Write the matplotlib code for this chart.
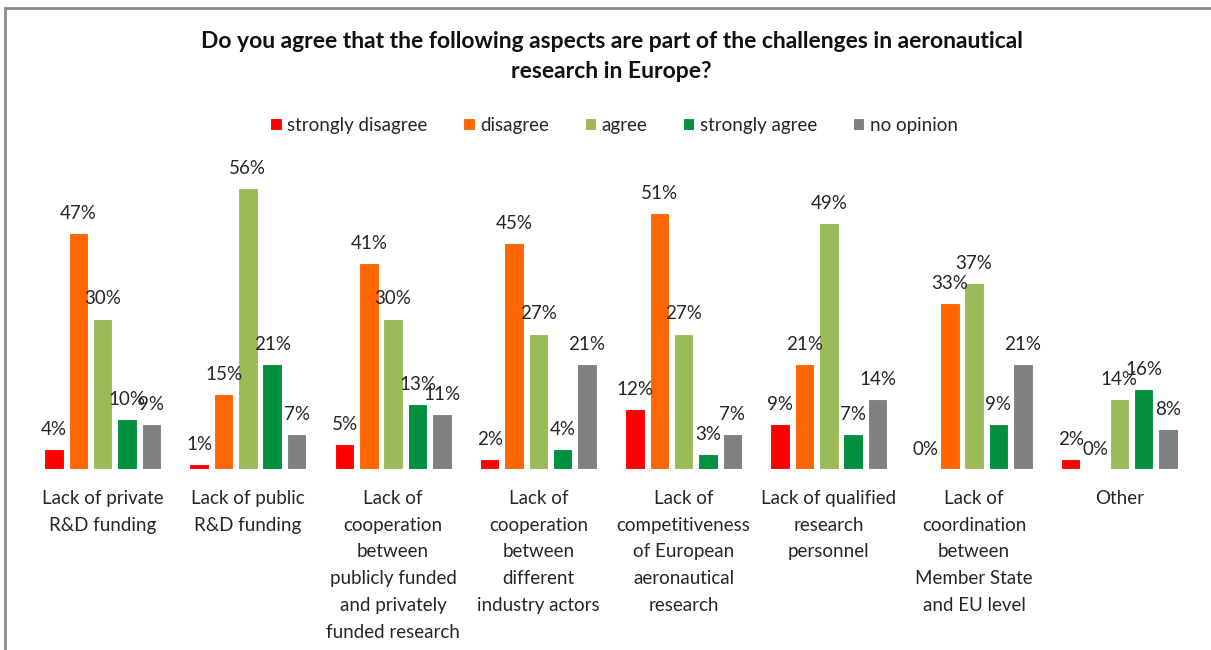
import numpy as np
import matplotlib.pyplot as plt
from matplotlib.patches import Rectangle

plt.rcParams['font.family'] = ['Lato', 'DejaVu Sans']

categorias = [
    "Lack of private\nR&D funding",
    "Lack of public\nR&D funding",
    "Lack of\ncooperation\nbetween\npublicly funded\nand privately\nfunded research",
    "Lack of\ncooperation\nbetween\ndifferent\nindustry actors",
    "Lack of\ncompetitiveness\nof European\naeronautical\nresearch",
    "Lack of qualified\nresearch\npersonnel",
    "Lack of\ncoordination\nbetween\nMember State\nand EU level",
    "Other",
]
series = ["strongly disagree", "disagree", "agree", "strongly agree", "no opinion"]
strongly_disagree = [4, 1, 5, 2, 12, 9, 0, 2]
disagree = [47, 15, 41, 45, 51, 21, 33, 0]
agree = [30, 56, 30, 27, 27, 49, 37, 14]
strongly_agree = [10, 21, 13, 4, 3, 7, 9, 16]
no_opinion = [9, 7, 11, 21, 7, 14, 21, 8]
valores = [strongly_disagree, disagree, agree, strongly_agree, no_opinion]
colores = ["#FF0000", "#FF6600", "#9BBB59", "#00903F", "#808080"]

W, H = 1211, 650
fig = plt.figure(figsize=(W / 100, H / 100), dpi=100)
# marco gris
fig.patches.append(Rectangle((5 / W, -0.1), 1.2, (H - 8) / H + 0.1,
                             transform=fig.transFigure, fill=False,
                             edgecolor="#8C8C8C", linewidth=2))

# ejes: base en y=469, 60% arriba en y=168
ax = fig.add_axes([30 / W, (H - 469) / H, (1192 - 30) / W, (469 - 168) / H])
x = np.arange(len(categorias))
paso = 0.1675
ancho = 0.134
for i, (nombre, vals, col) in enumerate(zip(series, valores, colores)):
    pos = x + (i - 2) * paso
    ax.bar(pos, vals, ancho, color=col, edgecolor="white", linewidth=0.8, label=nombre)
    for px_, v in zip(pos, vals):
        ax.annotate(f"{v}%", (px_, v), xytext=(0, 8), textcoords="offset points",
                    ha="center", va="bottom", fontsize=13.5, color="#262626")

ax.set_xlim(-0.5, len(categorias) - 0.5)
ax.set_ylim(0, 60)
ax.set_yticks([])
ax.set_xticks(x)
ax.set_xticklabels(categorias, fontsize=13.5, color="#262626", linespacing=1.7, va="top")
ax.tick_params(axis="x", length=0, pad=15)
for s in ax.spines.values():
    s.set_visible(False)

fig.text(0.505, (H - 42) / H, "Do you agree that the following aspects are part of the challenges in aeronautical",
         ha="center", va="center", fontsize=16.5, fontweight="bold", color="#111111")
fig.text(0.505, (H - 72) / H, "research in Europe?",
         ha="center", va="center", fontsize=16.5, fontweight="bold", color="#111111")

ley = fig.legend(*ax.get_legend_handles_labels(), loc="center", bbox_to_anchor=(0.507, (H - 125) / H),
                 ncol=5, frameon=False, fontsize=13.5, handlelength=0.6, handleheight=0.6,
                 handletextpad=0.3, columnspacing=1.9)
for t in ley.get_texts():
    t.set_color("#262626")

fig.savefig("out.png", dpi=100)
